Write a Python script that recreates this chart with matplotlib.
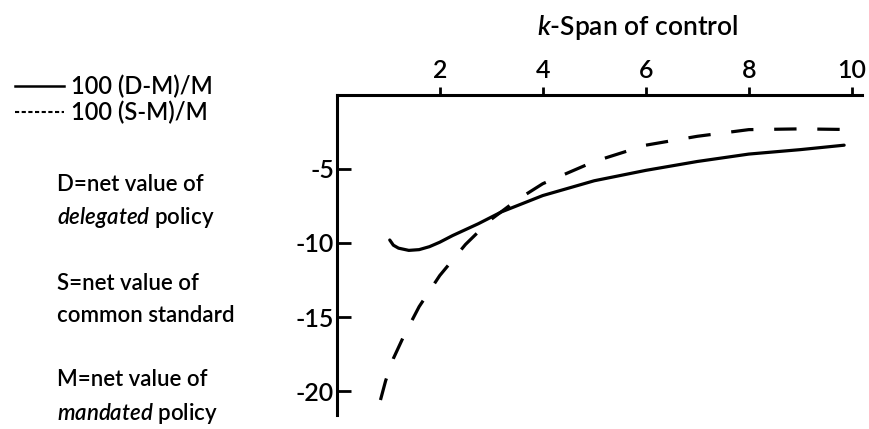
import numpy as np
import matplotlib
matplotlib.use("Agg")
import matplotlib.pyplot as plt
from matplotlib.lines import Line2D

plt.rcParams['font.family'] = ['Lato', 'DejaVu Sans']
plt.rcParams['font.weight'] = 'semibold'
plt.rcParams['mathtext.fontset'] = 'custom'
plt.rcParams['mathtext.rm'] = 'Lato:semibold'
plt.rcParams['mathtext.it'] = 'Lato:italic:semibold'

# 100 (D-M)/M, solid curve
k_d = [1.03, 1.1, 1.2, 1.4, 1.6, 1.8, 2.0, 2.25, 2.75, 3.2, 4.0, 5.0, 6.0, 7.0, 8.0, 9.0, 9.85]
d_vals = [-9.8, -10.15, -10.35, -10.5, -10.45, -10.25, -9.95, -9.5, -8.7, -7.9, -6.8, -5.8, -5.1, -4.5, -4.0, -3.7, -3.4]

# 100 (S-M)/M, dashed curve
k_s = [0.85, 0.95, 1.1, 1.3, 1.6, 2.0, 2.5, 3.0, 3.5, 4.0, 5.0, 6.0, 7.0, 8.0, 9.0, 10.1]
s_vals = [-20.6, -19.3, -17.8, -16.3, -14.3, -12.2, -10.1, -8.4, -7.1, -6.0, -4.5, -3.4, -2.8, -2.35, -2.3, -2.35]

xticks = [2, 4, 6, 8, 10]
yticks = [-5, -10, -15, -20]

fig = plt.figure(figsize=(8.7, 4.29), dpi=100)
ax = fig.add_axes([0.387, 0.033, 0.604, 0.746])

ax.plot(k_d, d_vals, color='black', lw=2.3, solid_capstyle='round', solid_joinstyle='round')
ax.plot(k_s, s_vals, color='black', lw=2.3, dashes=(7, 6.5))

ax.set_xlim(0, 10.2)
ax.set_ylim(-21.6, 0)
ax.spines['bottom'].set_visible(False)
ax.spines['right'].set_visible(False)
ax.spines['top'].set_linewidth(2.2)
ax.spines['left'].set_linewidth(2.2)

ax.xaxis.tick_top()
ax.set_xticks(xticks)
ax.set_xticklabels([str(t) for t in xticks])
ax.tick_params(axis='x', direction='out', length=6, width=2, labelsize=18, pad=3)
ax.set_yticks(yticks)
ax.set_yticklabels([str(t) for t in yticks])
ax.tick_params(axis='y', direction='in', length=10, width=2, labelsize=18, pad=2)

fig.text(0.733, 0.937, r'$\mathit{k}$-Span of control', fontsize=19,
         ha='center', va='center')

handles = [Line2D([], [], color='black', lw=1.8),
           Line2D([], [], color='black', lw=1.5, dashes=(2, 1.2))]
fig.legend(handles, ['100 (D-M)/M', '100 (S-M)/M'], loc='upper left',
           bbox_to_anchor=(0.017, 0.825), frameon=False, fontsize=17,
           handlelength=2.1, handletextpad=0.3, labelspacing=0.1,
           borderpad=0, borderaxespad=0)

notes = [
    (185, 'D=net value of'),
    (218, r'$\mathit{delegated}$ policy'),
    (283, 'S=net value of'),
    (315, 'common standard'),
    (380, 'M=net value of'),
    (413, r'$\mathit{mandated}$ policy'),
]
for py, txt in notes:
    fig.text(57 / 870, 1 - py / 429, txt, fontsize=16, ha='left', va='center')

fig.savefig('out.png', dpi=100)
